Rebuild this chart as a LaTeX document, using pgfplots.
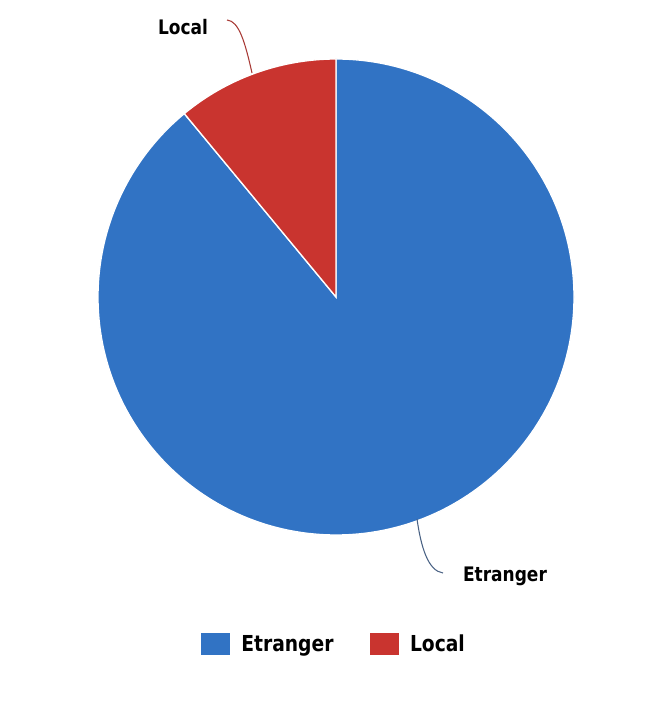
\documentclass[border=0pt]{standalone}
\usepackage{fontspec}
\setmainfont{DejaVu Sans}[FakeStretch=0.85]
\usepackage{pgfplots}
\usepackage{pgfplotstable}
\pgfplotsset{compat=1.18}
\definecolor{cEtr}{HTML}{3173C4}
\definecolor{cLoc}{HTML}{C9342F}
\definecolor{lnEtr}{HTML}{4A6284}
\definecolor{lnLoc}{HTML}{A83A36}
\pgfplotstableread{
label value
Etranger 89
Local 11
}\piedata
\begin{document}
\begin{tikzpicture}
\pgfplotstablegetelem{0}{value}\of\piedata \let\vEtr\pgfplotsretval
\pgfplotstablegetelem{1}{value}\of\piedata \let\vLoc\pgfplotsretval
\pgfmathsetmacro{\tot}{\vEtr+\vLoc}
\pgfmathsetmacro{\aEnd}{90-360*(\vEtr/\tot)}
\begin{axis}[
  x=0.75pt, y=0.75pt,
  xmin=0, xmax=667, ymin=0, ymax=710,
  hide axis, clip=false,
  legend columns=2,
  legend style={draw=none, fill=none, at={(axis cs:334.5,66)}, anchor=center,
    font=\fontsize{16.5pt}{18pt}\selectfont\bfseries,
    /tikz/every odd column/.append style={column sep=6.5pt},
    /tikz/every even column/.append style={column sep=25.5pt},
    inner sep=0pt},
  legend cell align=left,
]
\path (axis cs:0,0) rectangle (axis cs:667,710);
% slices
\fill[cEtr, draw=white, line width=1pt] (axis cs:336,413) -- ++(90:178.5pt)
  arc[start angle=90, end angle=\aEnd, radius=178.5pt] -- cycle;
\fill[cLoc, draw=white, line width=1pt] (axis cs:336,413) -- ++(\aEnd:178.5pt)
  arc[start angle=\aEnd, end angle=-270, radius=178.5pt] -- cycle;
% connectors
\draw[lnLoc, line width=0.8pt] (axis cs:252,637) .. controls (axis cs:245,668) and (axis cs:239,689) .. (axis cs:227,690);
\draw[lnEtr, line width=0.8pt] (axis cs:417,191) .. controls (axis cs:421,163) and (axis cs:428,139) .. (axis cs:443,137);
% labels
\node[anchor=base, font=\fontsize{15pt}{17pt}\selectfont\bfseries] at (axis cs:183,675) {Local};
\node[anchor=base, font=\fontsize{15pt}{17pt}\selectfont\bfseries] at (axis cs:505,128) {Etranger};
% legend
\addlegendimage{legend image code/.code={\fill[cEtr] (0pt,-7.9pt) rectangle (21pt,7.9pt);}}
\addlegendentry{Etranger}
\addlegendimage{legend image code/.code={\fill[cLoc] (0pt,-7.9pt) rectangle (21pt,7.9pt);}}
\addlegendentry{Local}
\end{axis}
\end{tikzpicture}
\end{document}
